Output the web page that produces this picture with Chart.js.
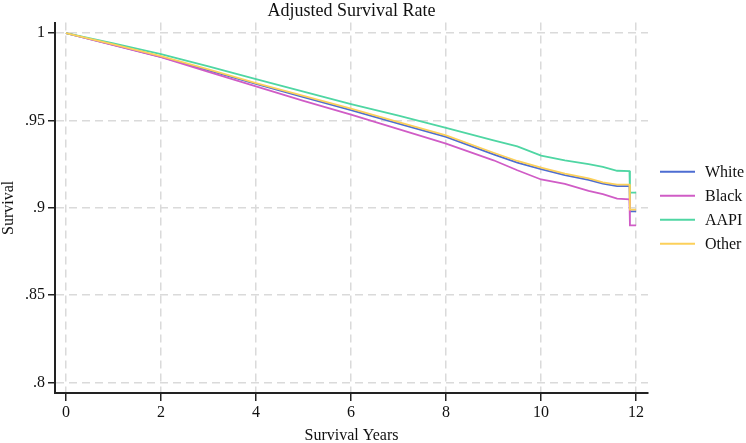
<!DOCTYPE html>
<html>
<head>
<meta charset="utf-8">
<script src="https://cdn.jsdelivr.net/npm/chart.js@4"></script>
<style>
  html, body { margin: 0; padding: 0; background: #fff; }
  #wrap { width: 746px; height: 443px; }
</style>
</head>
<body>
<div id="wrap"><canvas id="chart" width="746" height="443"></canvas></div>
<script>
// survival years (x) and adjusted survival per group
const years = [0, 1, 2, 3, 4, 5, 6, 7, 8, 9, 9.5, 10, 10.5, 11, 11.3, 11.6, 11.86, 11.87, 12.0];
const white = [1, .9933, .9864, .9787, .9709, .9633, .9559, .9482, .9406, .9306, .9259, .9222, .9187, .9160, .9138, .9124, .9124, .8980, .8980];
const black = [1, .9931, .9862, .9778, .9695, .9612, .9533, .9450, .9367, .9272, .9215, .9162, .9137, .9097, .9078, .9052, .9048, .8899, .8899];
const aapi  = [1, .9941, .9880, .9809, .9737, .9665, .9594, .9527, .9457, .9386, .9352, .9299, .9272, .9250, .9234, .9212, .9210, .9087, .9087];
const other = [1, .9935, .9868, .9792, .9714, .9640, .9567, .9490, .9415, .9315, .9268, .9230, .9196, .9168, .9146, .9133, .9133, .8990, .8990];

const groups = ['White', 'Black', 'AAPI', 'Other'];
const colors = ['#4d6dd2', '#d05cc6', '#4fd6a3', '#fcd05a'];
const xTicks = [0, 2, 4, 6, 8, 10, 12];
const yTicks = [.8, .85, .9, .95, 1];
const yTickLabels = ['.8', '.85', '.9', '.95', '1'];

const FONT = 'Liberation Serif, Times New Roman, serif';

function pts(vals) {
  return years.map((t, i) => ({ x: t, y: vals[i] }));
}

// simple legend on the right, lines + labels
const sideLegend = {
  id: 'sideLegend',
  afterDraw(chart) {
    const { ctx, chartArea } = chart;
    const ds = chart.data.datasets;
    const x0 = chartArea.right + 12;
    const mid = (chartArea.top + chartArea.bottom) / 2;
    const step = 24;
    const start = mid - step * (ds.length - 1) / 2;
    ctx.save();
    ds.forEach((d, i) => {
      const y = start + i * step;
      ctx.strokeStyle = d.borderColor;
      ctx.lineWidth = 2;
      ctx.beginPath();
      ctx.moveTo(x0, y);
      ctx.lineTo(x0 + 35, y);
      ctx.stroke();
      ctx.fillStyle = '#111';
      ctx.font = '16px ' + FONT;
      ctx.textBaseline = 'middle';
      ctx.textAlign = 'left';
      ctx.fillText(d.label, x0 + 45, y + 1);
    });
    ctx.restore();
  }
};

const series = [white, black, aapi, other];

new Chart(document.getElementById('chart'), {
  type: 'line',
  data: {
    datasets: groups.map((g, i) => ({
      label: g,
      data: pts(series[i]),
      borderColor: colors[i],
      borderWidth: 1.8,
      pointRadius: 0,
      tension: 0,
      fill: false,
      order: groups.length - i
    }))
  },
  options: {
    responsive: false,
    animation: false,
    layout: { padding: { left: 0, right: 98, top: 0, bottom: 0 } },
    plugins: {
      legend: { display: false },
      tooltip: { enabled: false },
      title: {
        display: true,
        fullSize: false,
        text: 'Adjusted Survival Rate',
        color: '#111',
        font: { family: FONT, size: 18, weight: 'normal', lineHeight: 1.2 },
        padding: { top: 0, bottom: 1 }
      }
    },
    scales: {
      x: {
        type: 'linear',
        min: -0.23,
        max: 12.25,
        afterBuildTicks: s => { s.ticks = xTicks.map(v => ({ value: v })); },
        afterFit: s => { s.height = 50; },
        ticks: {
          color: '#111',
          font: { family: FONT, size: 16 },
          padding: 2,
          maxRotation: 0,
          callback: v => String(v)
        },
        grid: {
          color: '#dadada',
          lineWidth: 1.5,
          tickColor: '#222',
          tickWidth: 1.5,
          tickLength: 8
        },
        border: { display: true, color: '#222', width: 2, dash: [8, 5] },
        title: {
          display: true,
          text: 'Survival Years',
          color: '#111',
          font: { family: FONT, size: 16, lineHeight: 1 },
          padding: { top: 0, bottom: -1 }
        }
      },
      y: {
        min: 0.794,
        max: 1.006,
        afterBuildTicks: s => { s.ticks = yTicks.map(v => ({ value: v })); },
        afterFit: s => { s.width = 55; },
        ticks: {
          color: '#111',
          font: { family: FONT, size: 16 },
          padding: 3,
          callback: v => yTickLabels[yTicks.findIndex(t => Math.abs(t - v) < 1e-6)]
        },
        grid: {
          color: '#dadada',
          lineWidth: 1.5,
          tickColor: '#222',
          tickWidth: 1.5,
          tickLength: 7
        },
        border: { display: true, color: '#222', width: 2, dash: [8, 5] },
        title: {
          display: true,
          text: 'Survival',
          color: '#111',
          font: { family: FONT, size: 16, lineHeight: 1.2 },
          padding: { top: -1, bottom: 0 }
        }
      }
    }
  },
  plugins: [sideLegend]
});
</script>
</body>
</html>
